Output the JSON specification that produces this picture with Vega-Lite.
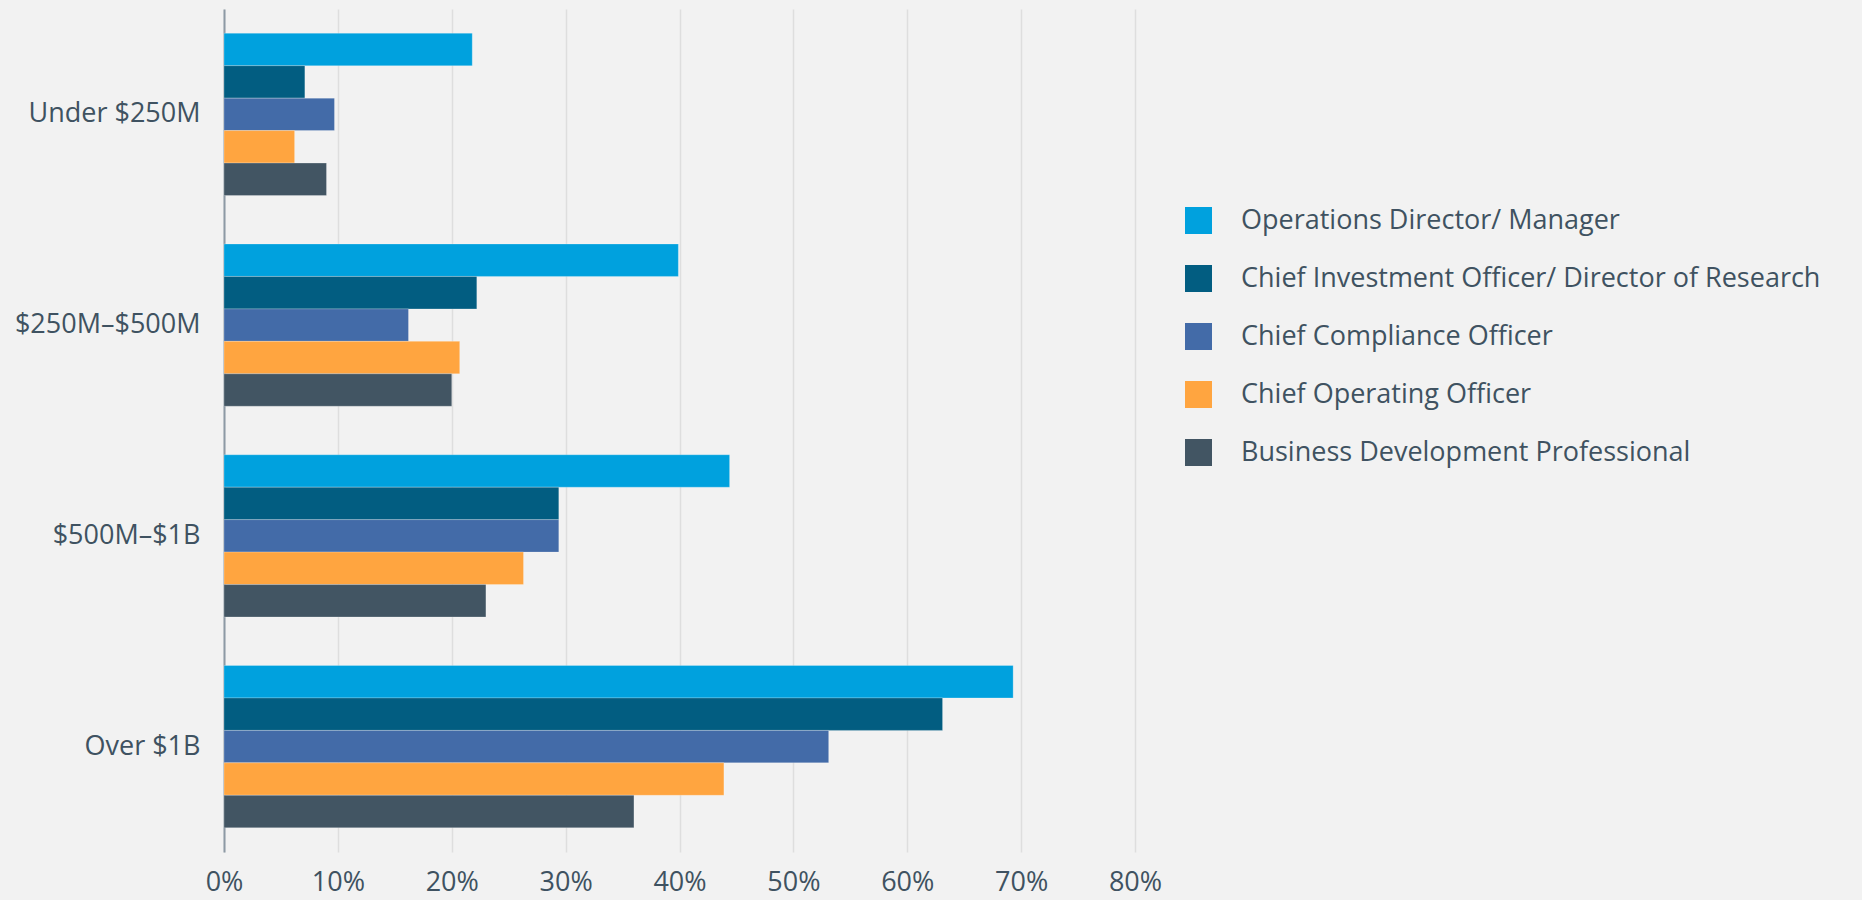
{
  "$schema": "https://vega.github.io/schema/vega-lite/v6.json",
  "autosize": "none",
  "width": 911,
  "height": 843,
  "padding": {"left": 224, "top": 9, "right": 727, "bottom": 48},
  "background": "#f2f2f2",
  "config": {
    "view": {"stroke": null},
    "font": "Open Sans",
    "axis": {"labelFont": "Open Sans", "labelColor": "#3f5261", "labelFontSize": 27, "labelFontWeight": "normal", "labelLimit": 400},
    "legend": {"labelFont": "Open Sans", "labelColor": "#3f5261", "labelFontSize": 27, "labelFontWeight": "normal"}
  },
  "data": {
    "values": [
      {"aum": "Under $250M", "role": "Operations Director/ Manager", "pct": 0.218},
      {"aum": "Under $250M", "role": "Chief Investment Officer/ Director of Research", "pct": 0.071},
      {"aum": "Under $250M", "role": "Chief Compliance Officer", "pct": 0.097},
      {"aum": "Under $250M", "role": "Chief Operating Officer", "pct": 0.062},
      {"aum": "Under $250M", "role": "Business Development Professional", "pct": 0.090},
      {"aum": "$250M–$500M", "role": "Operations Director/ Manager", "pct": 0.399},
      {"aum": "$250M–$500M", "role": "Chief Investment Officer/ Director of Research", "pct": 0.222},
      {"aum": "$250M–$500M", "role": "Chief Compliance Officer", "pct": 0.162},
      {"aum": "$250M–$500M", "role": "Chief Operating Officer", "pct": 0.207},
      {"aum": "$250M–$500M", "role": "Business Development Professional", "pct": 0.200},
      {"aum": "$500M–$1B", "role": "Operations Director/ Manager", "pct": 0.444},
      {"aum": "$500M–$1B", "role": "Chief Investment Officer/ Director of Research", "pct": 0.294},
      {"aum": "$500M–$1B", "role": "Chief Compliance Officer", "pct": 0.294},
      {"aum": "$500M–$1B", "role": "Chief Operating Officer", "pct": 0.263},
      {"aum": "$500M–$1B", "role": "Business Development Professional", "pct": 0.230},
      {"aum": "Over $1B", "role": "Operations Director/ Manager", "pct": 0.693},
      {"aum": "Over $1B", "role": "Chief Investment Officer/ Director of Research", "pct": 0.631},
      {"aum": "Over $1B", "role": "Chief Compliance Officer", "pct": 0.531},
      {"aum": "Over $1B", "role": "Chief Operating Officer", "pct": 0.439},
      {"aum": "Over $1B", "role": "Business Development Professional", "pct": 0.360}
    ]
  },
  "mark": {"type": "bar", "stroke": "#ffffff", "strokeWidth": 0.6, "strokeOpacity": 0.4},
  "encoding": {
    "y": {
      "field": "aum", "type": "nominal",
      "sort": ["Under $250M", "$250M–$500M", "$500M–$1B", "Over $1B"],
      "scale": {"paddingInner": 0.23, "paddingOuter": 0.115},
      "axis": {"title": null, "ticks": false, "domain": true, "domainColor": "#8d9aa5", "domainWidth": 2, "labelPadding": 24, "grid": false}
    },
    "yOffset": {
      "field": "role", "type": "nominal",
      "sort": ["Operations Director/ Manager", "Chief Investment Officer/ Director of Research", "Chief Compliance Officer", "Chief Operating Officer", "Business Development Professional"],
      "scale": {"paddingInner": 0, "paddingOuter": 0}
    },
    "x": {
      "field": "pct", "type": "quantitative",
      "scale": {"domain": [0, 0.8], "nice": false},
      "axis": {"title": null, "format": ".0%", "values": [0, 0.1, 0.2, 0.3, 0.4, 0.5, 0.6, 0.7, 0.8], "domain": false, "ticks": false, "grid": true, "gridColor": "#dedede", "gridWidth": 1.5, "labelPadding": 17, "labelFlush": false, "labelBound": false}
    },
    "color": {
      "field": "role", "type": "nominal",
      "scale": {
        "domain": ["Operations Director/ Manager", "Chief Investment Officer/ Director of Research", "Chief Compliance Officer", "Chief Operating Officer", "Business Development Professional"],
        "range": ["#00a1de", "#025d81", "#436ba8", "#ffa540", "#425563"]
      },
      "legend": {
        "title": null, "orient": "none", "legendX": 961, "legendY": 198,
        "symbolType": "square", "symbolSize": 729, "symbolStrokeWidth": 0,
        "rowPadding": 30, "labelOffset": 29, "labelLimit": 700
      }
    }
  }
}
